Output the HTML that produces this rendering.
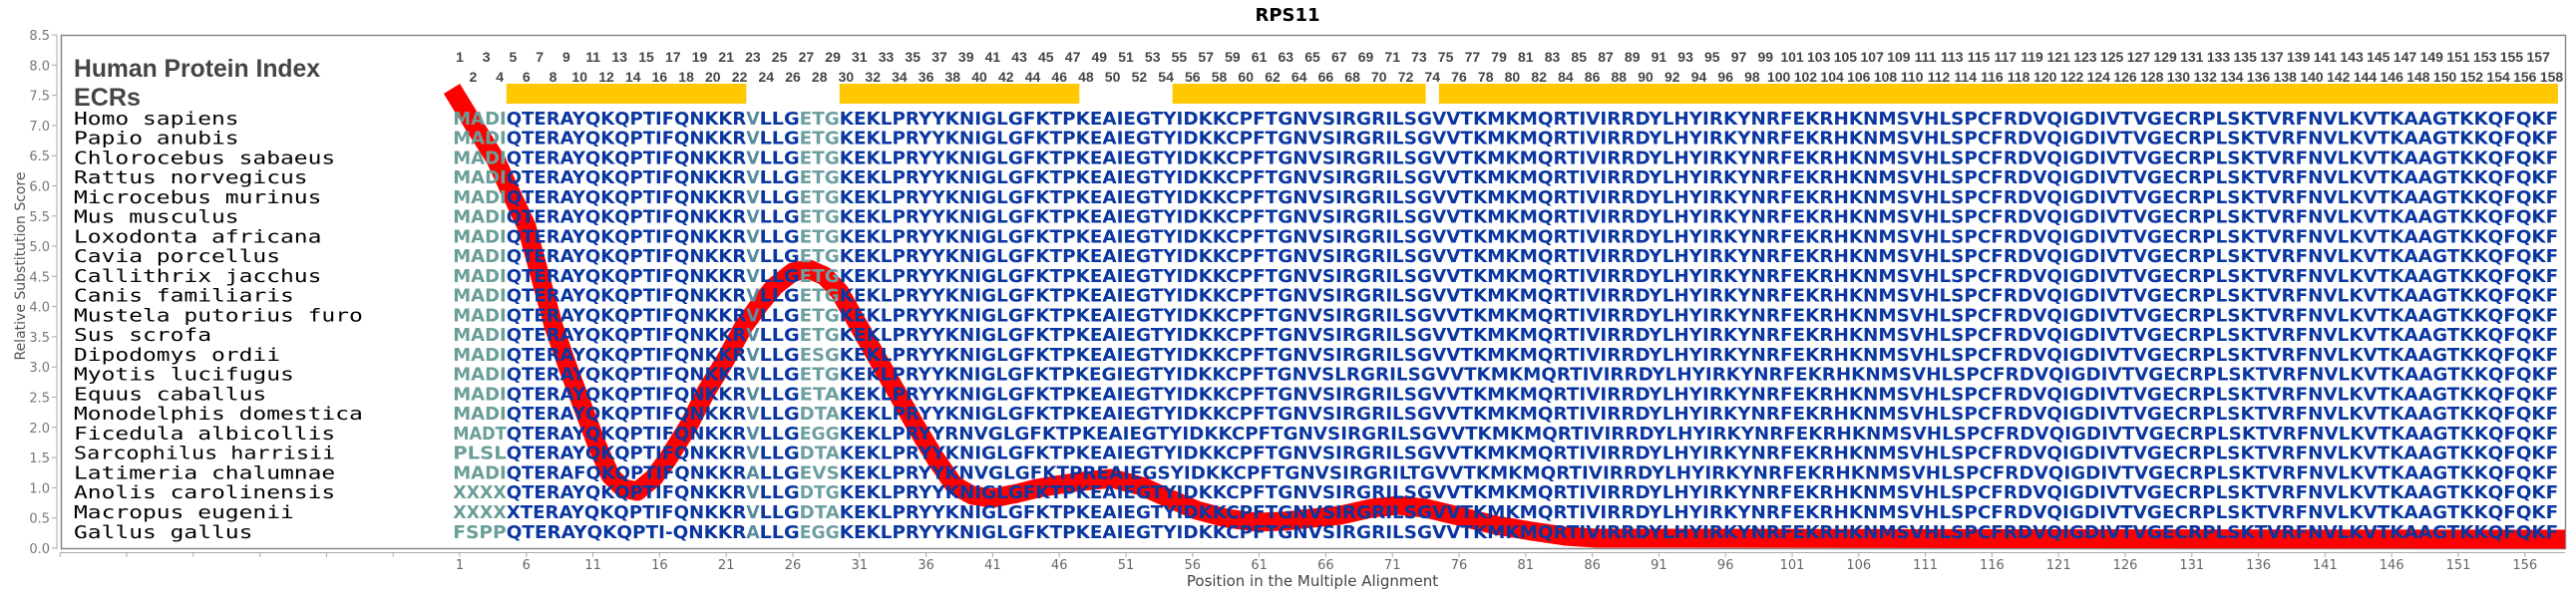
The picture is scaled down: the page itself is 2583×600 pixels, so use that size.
<!DOCTYPE html>
<html><head><meta charset="utf-8"><style>
html,body{margin:0;padding:0;background:#fff;}
svg{display:block;}
.sp{font-family:"DejaVu Sans Mono","Liberation Mono",monospace;font-size:18px;fill:#000;}
.sq{font-family:"DejaVu Sans","Liberation Sans",sans-serif;font-weight:bold;font-size:18px;fill:#0a36a0;}
.a{fill:#6a9e98;}.c{fill:#5a8ca0;}.e{fill:#6e9fa0;}
.hn{font-family:"Liberation Sans",sans-serif;font-weight:bold;font-size:14px;fill:#444;text-anchor:middle;}
.yl{font-family:"DejaVu Sans",sans-serif;font-size:13px;fill:#777;text-anchor:end;}
.xl{font-family:"DejaVu Sans",sans-serif;font-size:13px;fill:#666;text-anchor:middle;}
</style></head><body>
<svg width="2583" height="600" xmlns="http://www.w3.org/2000/svg">
<text x="1291" y="21" text-anchor="middle" font-family="DejaVu Sans,sans-serif" font-weight="bold" font-size="18">RPS11</text>
<rect x="61.5" y="35.5" width="2511" height="515" fill="none" stroke="#888" stroke-width="1.5"/>
<line x1="57" y1="35" x2="57" y2="551" stroke="#aaa"/>
<path stroke="#aaa" d="M52 550h5M52 519.7h5M52 489.4h5M52 459.1h5M52 428.8h5M52 398.5h5M52 368.2h5M52 337.9h5M52 307.6h5M52 277.3h5M52 247h5M52 216.8h5M52 186.5h5M52 156.2h5M52 125.9h5M52 95.6h5M52 65.3h5M52 35h5"/>
<g class="yl">
<text x="50" y="555">0.0</text><text x="50" y="524.7">0.5</text><text x="50" y="494.4">1.0</text><text x="50" y="464.1">1.5</text><text x="50" y="433.8">2.0</text><text x="50" y="403.5">2.5</text><text x="50" y="373.2">3.0</text><text x="50" y="342.9">3.5</text><text x="50" y="312.6">4.0</text><text x="50" y="282.3">4.5</text><text x="50" y="252">5.0</text><text x="50" y="221.8">5.5</text><text x="50" y="191.5">6.0</text><text x="50" y="161.2">6.5</text><text x="50" y="130.9">7.0</text><text x="50" y="100.6">7.5</text><text x="50" y="70.3">8.0</text><text x="50" y="40">8.5</text>
</g>
<text transform="translate(25,267) rotate(-90)" text-anchor="middle" font-family="DejaVu Sans,sans-serif" font-size="14" fill="#555">Relative Substitution Score</text>
<line x1="61" y1="554.5" x2="2572" y2="554.5" stroke="#aaa"/>
<path stroke="#aaa" d="M60.2 554v5M127 554v5M193.8 554v5M260.6 554v5M327.4 554v5M394.2 554v5M461 554v5M527.8 554v5M594.6 554v5M661.4 554v5M728.2 554v5M795 554v5M861.8 554v5M928.6 554v5M995.4 554v5M1062.2 554v5M1129 554v5M1195.8 554v5M1262.6 554v5M1329.4 554v5M1396.2 554v5M1463 554v5M1529.8 554v5M1596.6 554v5M1663.4 554v5M1730.2 554v5M1797 554v5M1863.8 554v5M1930.6 554v5M1997.4 554v5M2064.2 554v5M2131 554v5M2197.8 554v5M2264.6 554v5M2331.4 554v5M2398.2 554v5M2465 554v5M2531.8 554v5"/>
<g class="xl">
<text x="461" y="571">1</text><text x="527.8" y="571">6</text><text x="594.6" y="571">11</text><text x="661.4" y="571">16</text><text x="728.2" y="571">21</text><text x="795" y="571">26</text><text x="861.8" y="571">31</text><text x="928.6" y="571">36</text><text x="995.4" y="571">41</text><text x="1062.2" y="571">46</text><text x="1129" y="571">51</text><text x="1195.8" y="571">56</text><text x="1262.6" y="571">61</text><text x="1329.4" y="571">66</text><text x="1396.2" y="571">71</text><text x="1463" y="571">76</text><text x="1529.8" y="571">81</text><text x="1596.6" y="571">86</text><text x="1663.4" y="571">91</text><text x="1730.2" y="571">96</text><text x="1797" y="571">101</text><text x="1863.8" y="571">106</text><text x="1930.6" y="571">111</text><text x="1997.4" y="571">116</text><text x="2064.2" y="571">121</text><text x="2131" y="571">126</text><text x="2197.8" y="571">131</text><text x="2264.6" y="571">136</text><text x="2331.4" y="571">141</text><text x="2398.2" y="571">146</text><text x="2465" y="571">151</text><text x="2531.8" y="571">156</text>
</g>
<text x="1316" y="588" text-anchor="middle" font-family="DejaVu Sans,sans-serif" font-size="15" fill="#444">Position in the Multiple Alignment</text>

<text x="74" y="77" font-family="Liberation Sans,sans-serif" font-weight="bold" font-size="25" fill="#444" textLength="247" lengthAdjust="spacingAndGlyphs">Human Protein Index</text>
<text x="74" y="106" font-family="Liberation Sans,sans-serif" font-weight="bold" font-size="25" fill="#444" textLength="67" lengthAdjust="spacingAndGlyphs">ECRs</text>

<g fill="#ffc800">
<rect x="507.8" y="84" width="240.5" height="20"/>
<rect x="841.8" y="84" width="240.5" height="20"/>
<rect x="1175.7" y="84" width="253.9" height="20"/>
<rect x="1442.9" y="84" width="1122" height="20"/>
</g>

<g class="hn">
<text x="461" y="62">1</text><text x="487.7" y="62">3</text><text x="514.4" y="62">5</text><text x="541.2" y="62">7</text><text x="567.9" y="62">9</text><text x="594.6" y="62">11</text><text x="621.3" y="62">13</text><text x="648" y="62">15</text><text x="674.8" y="62">17</text><text x="701.5" y="62">19</text><text x="728.2" y="62">21</text><text x="754.9" y="62">23</text><text x="781.6" y="62">25</text><text x="808.4" y="62">27</text><text x="835.1" y="62">29</text><text x="861.8" y="62">31</text><text x="888.5" y="62">33</text><text x="915.2" y="62">35</text><text x="942" y="62">37</text><text x="968.7" y="62">39</text><text x="995.4" y="62">41</text><text x="1022.1" y="62">43</text><text x="1048.8" y="62">45</text><text x="1075.6" y="62">47</text><text x="1102.3" y="62">49</text><text x="1129" y="62">51</text><text x="1155.7" y="62">53</text><text x="1182.4" y="62">55</text><text x="1209.2" y="62">57</text><text x="1235.9" y="62">59</text><text x="1262.6" y="62">61</text><text x="1289.3" y="62">63</text><text x="1316" y="62">65</text><text x="1342.8" y="62">67</text><text x="1369.5" y="62">69</text><text x="1396.2" y="62">71</text><text x="1422.9" y="62">73</text><text x="1449.6" y="62">75</text><text x="1476.4" y="62">77</text><text x="1503.1" y="62">79</text><text x="1529.8" y="62">81</text><text x="1556.5" y="62">83</text><text x="1583.2" y="62">85</text><text x="1610" y="62">87</text><text x="1636.7" y="62">89</text><text x="1663.4" y="62">91</text><text x="1690.1" y="62">93</text><text x="1716.8" y="62">95</text><text x="1743.6" y="62">97</text><text x="1770.3" y="62">99</text><text x="1797" y="62">101</text><text x="1823.7" y="62">103</text><text x="1850.4" y="62">105</text><text x="1877.2" y="62">107</text><text x="1903.9" y="62">109</text><text x="1930.6" y="62">111</text><text x="1957.3" y="62">113</text><text x="1984" y="62">115</text><text x="2010.8" y="62">117</text><text x="2037.5" y="62">119</text><text x="2064.2" y="62">121</text><text x="2090.9" y="62">123</text><text x="2117.6" y="62">125</text><text x="2144.4" y="62">127</text><text x="2171.1" y="62">129</text><text x="2197.8" y="62">131</text><text x="2224.5" y="62">133</text><text x="2251.2" y="62">135</text><text x="2278" y="62">137</text><text x="2304.7" y="62">139</text><text x="2331.4" y="62">141</text><text x="2358.1" y="62">143</text><text x="2384.8" y="62">145</text><text x="2411.6" y="62">147</text><text x="2438.3" y="62">149</text><text x="2465" y="62">151</text><text x="2491.7" y="62">153</text><text x="2518.4" y="62">155</text><text x="2545.2" y="62">157</text>
<text x="474.4" y="82">2</text><text x="501.1" y="82">4</text><text x="527.8" y="82">6</text><text x="554.5" y="82">8</text><text x="581.2" y="82">10</text><text x="608" y="82">12</text><text x="634.7" y="82">14</text><text x="661.4" y="82">16</text><text x="688.1" y="82">18</text><text x="714.8" y="82">20</text><text x="741.6" y="82">22</text><text x="768.3" y="82">24</text><text x="795" y="82">26</text><text x="821.7" y="82">28</text><text x="848.4" y="82">30</text><text x="875.2" y="82">32</text><text x="901.9" y="82">34</text><text x="928.6" y="82">36</text><text x="955.3" y="82">38</text><text x="982" y="82">40</text><text x="1008.8" y="82">42</text><text x="1035.5" y="82">44</text><text x="1062.2" y="82">46</text><text x="1088.9" y="82">48</text><text x="1115.6" y="82">50</text><text x="1142.4" y="82">52</text><text x="1169.1" y="82">54</text><text x="1195.8" y="82">56</text><text x="1222.5" y="82">58</text><text x="1249.2" y="82">60</text><text x="1276" y="82">62</text><text x="1302.7" y="82">64</text><text x="1329.4" y="82">66</text><text x="1356.1" y="82">68</text><text x="1382.8" y="82">70</text><text x="1409.6" y="82">72</text><text x="1436.3" y="82">74</text><text x="1463" y="82">76</text><text x="1489.7" y="82">78</text><text x="1516.4" y="82">80</text><text x="1543.2" y="82">82</text><text x="1569.9" y="82">84</text><text x="1596.6" y="82">86</text><text x="1623.3" y="82">88</text><text x="1650" y="82">90</text><text x="1676.8" y="82">92</text><text x="1703.5" y="82">94</text><text x="1730.2" y="82">96</text><text x="1756.9" y="82">98</text><text x="1783.6" y="82">100</text><text x="1810.4" y="82">102</text><text x="1837.1" y="82">104</text><text x="1863.8" y="82">106</text><text x="1890.5" y="82">108</text><text x="1917.2" y="82">110</text><text x="1944" y="82">112</text><text x="1970.7" y="82">114</text><text x="1997.4" y="82">116</text><text x="2024.1" y="82">118</text><text x="2050.8" y="82">120</text><text x="2077.6" y="82">122</text><text x="2104.3" y="82">124</text><text x="2131" y="82">126</text><text x="2157.7" y="82">128</text><text x="2184.4" y="82">130</text><text x="2211.2" y="82">132</text><text x="2237.9" y="82">134</text><text x="2264.6" y="82">136</text><text x="2291.3" y="82">138</text><text x="2318" y="82">140</text><text x="2344.8" y="82">142</text><text x="2371.5" y="82">144</text><text x="2398.2" y="82">146</text><text x="2424.9" y="82">148</text><text x="2451.6" y="82">150</text><text x="2478.4" y="82">152</text><text x="2505.1" y="82">154</text><text x="2531.8" y="82">156</text><text x="2558.5" y="82">158</text>
</g>

<polyline fill="none" stroke="#ff0000" stroke-width="19" stroke-linejoin="round" points="453,89 475,125 497,160 513,195 528,227 541,275 555,327 570,370 585,410 598,445 612,477 625,490 639,493 655,480 670,460 690,428 708,393 728,360 746,327 762,305 777,287 795,273 811,270 827,277 842,293 860,325 880,360 900,395 918,427 938,460 957,487 975,497 995,500 1020,495 1040,490 1057,487 1085,483 1115,480 1145,488 1172,500 1200,512 1230,520 1260,524 1287,523 1315,520 1344,517 1375,510 1402,507 1430,510 1459,517 1500,527 1536,533 1570,538 1600,540 2572,541"/>

<!-- rows -->
<g transform="translate(0,124.8)"><text class="sp" x="74" textLength="165.6" lengthAdjust="spacingAndGlyphs">Homo sapiens</text><text class="sq a" x="454.3" textLength="53.4" lengthAdjust="spacingAndGlyphs">MADI</text><text class="sq" x="507.8" textLength="240.5" lengthAdjust="spacingAndGlyphs">QTERAYQKQPTIFQNKKR</text><text class="sq c" x="748.2" textLength="13.4" lengthAdjust="spacingAndGlyphs">V</text><text class="sq" x="761.6" textLength="40.1" lengthAdjust="spacingAndGlyphs">LLG</text><text class="sq e" x="801.7" textLength="40.1" lengthAdjust="spacingAndGlyphs">ETG</text><text class="sq" x="841.8" textLength="1723.4" lengthAdjust="spacingAndGlyphs">KEKLPRYYKNIGLGFKTPKEAIEGTYIDKKCPFTGNVSIRGRILSGVVTKMKMQRTIVIRRDYLHYIRKYNRFEKRHKNMSVHLSPCFRDVQIGDIVTVGECRPLSKTVRFNVLKVTKAAGTKKQFQKF</text></g>
<g transform="translate(0,144.6)"><text class="sp" x="74" textLength="165.6" lengthAdjust="spacingAndGlyphs">Papio anubis</text><text class="sq a" x="454.3" textLength="53.4" lengthAdjust="spacingAndGlyphs">MADI</text><text class="sq" x="507.8" textLength="240.5" lengthAdjust="spacingAndGlyphs">QTERAYQKQPTIFQNKKR</text><text class="sq c" x="748.2" textLength="13.4" lengthAdjust="spacingAndGlyphs">V</text><text class="sq" x="761.6" textLength="40.1" lengthAdjust="spacingAndGlyphs">LLG</text><text class="sq e" x="801.7" textLength="40.1" lengthAdjust="spacingAndGlyphs">ETG</text><text class="sq" x="841.8" textLength="1723.4" lengthAdjust="spacingAndGlyphs">KEKLPRYYKNIGLGFKTPKEAIEGTYIDKKCPFTGNVSIRGRILSGVVTKMKMQRTIVIRRDYLHYIRKYNRFEKRHKNMSVHLSPCFRDVQIGDIVTVGECRPLSKTVRFNVLKVTKAAGTKKQFQKF</text></g>
<g transform="translate(0,164.3)"><text class="sp" x="74" textLength="262.2" lengthAdjust="spacingAndGlyphs">Chlorocebus sabaeus</text><text class="sq a" x="454.3" textLength="53.4" lengthAdjust="spacingAndGlyphs">MADI</text><text class="sq" x="507.8" textLength="240.5" lengthAdjust="spacingAndGlyphs">QTERAYQKQPTIFQNKKR</text><text class="sq c" x="748.2" textLength="13.4" lengthAdjust="spacingAndGlyphs">V</text><text class="sq" x="761.6" textLength="40.1" lengthAdjust="spacingAndGlyphs">LLG</text><text class="sq e" x="801.7" textLength="40.1" lengthAdjust="spacingAndGlyphs">ETG</text><text class="sq" x="841.8" textLength="1723.4" lengthAdjust="spacingAndGlyphs">KEKLPRYYKNIGLGFKTPKEAIEGTYIDKKCPFTGNVSIRGRILSGVVTKMKMQRTIVIRRDYLHYIRKYNRFEKRHKNMSVHLSPCFRDVQIGDIVTVGECRPLSKTVRFNVLKVTKAAGTKKQFQKF</text></g>
<g transform="translate(0,184.1)"><text class="sp" x="74" textLength="234.6" lengthAdjust="spacingAndGlyphs">Rattus norvegicus</text><text class="sq a" x="454.3" textLength="53.4" lengthAdjust="spacingAndGlyphs">MADI</text><text class="sq" x="507.8" textLength="240.5" lengthAdjust="spacingAndGlyphs">QTERAYQKQPTIFQNKKR</text><text class="sq c" x="748.2" textLength="13.4" lengthAdjust="spacingAndGlyphs">V</text><text class="sq" x="761.6" textLength="40.1" lengthAdjust="spacingAndGlyphs">LLG</text><text class="sq e" x="801.7" textLength="40.1" lengthAdjust="spacingAndGlyphs">ETG</text><text class="sq" x="841.8" textLength="1723.4" lengthAdjust="spacingAndGlyphs">KEKLPRYYKNIGLGFKTPKEAIEGTYIDKKCPFTGNVSIRGRILSGVVTKMKMQRTIVIRRDYLHYIRKYNRFEKRHKNMSVHLSPCFRDVQIGDIVTVGECRPLSKTVRFNVLKVTKAAGTKKQFQKF</text></g>
<g transform="translate(0,203.8)"><text class="sp" x="74" textLength="248.4" lengthAdjust="spacingAndGlyphs">Microcebus murinus</text><text class="sq a" x="454.3" textLength="53.4" lengthAdjust="spacingAndGlyphs">MADI</text><text class="sq" x="507.8" textLength="240.5" lengthAdjust="spacingAndGlyphs">QTERAYQKQPTIFQNKKR</text><text class="sq c" x="748.2" textLength="13.4" lengthAdjust="spacingAndGlyphs">V</text><text class="sq" x="761.6" textLength="40.1" lengthAdjust="spacingAndGlyphs">LLG</text><text class="sq e" x="801.7" textLength="40.1" lengthAdjust="spacingAndGlyphs">ETG</text><text class="sq" x="841.8" textLength="1723.4" lengthAdjust="spacingAndGlyphs">KEKLPRYYKNIGLGFKTPKEAIEGTYIDKKCPFTGNVSIRGRILSGVVTKMKMQRTIVIRRDYLHYIRKYNRFEKRHKNMSVHLSPCFRDVQIGDIVTVGECRPLSKTVRFNVLKVTKAAGTKKQFQKF</text></g>
<g transform="translate(0,223.6)"><text class="sp" x="74" textLength="165.6" lengthAdjust="spacingAndGlyphs">Mus musculus</text><text class="sq a" x="454.3" textLength="53.4" lengthAdjust="spacingAndGlyphs">MADI</text><text class="sq" x="507.8" textLength="240.5" lengthAdjust="spacingAndGlyphs">QTERAYQKQPTIFQNKKR</text><text class="sq c" x="748.2" textLength="13.4" lengthAdjust="spacingAndGlyphs">V</text><text class="sq" x="761.6" textLength="40.1" lengthAdjust="spacingAndGlyphs">LLG</text><text class="sq e" x="801.7" textLength="40.1" lengthAdjust="spacingAndGlyphs">ETG</text><text class="sq" x="841.8" textLength="1723.4" lengthAdjust="spacingAndGlyphs">KEKLPRYYKNIGLGFKTPKEAIEGTYIDKKCPFTGNVSIRGRILSGVVTKMKMQRTIVIRRDYLHYIRKYNRFEKRHKNMSVHLSPCFRDVQIGDIVTVGECRPLSKTVRFNVLKVTKAAGTKKQFQKF</text></g>
<g transform="translate(0,243.4)"><text class="sp" x="74" textLength="248.4" lengthAdjust="spacingAndGlyphs">Loxodonta africana</text><text class="sq a" x="454.3" textLength="53.4" lengthAdjust="spacingAndGlyphs">MADI</text><text class="sq" x="507.8" textLength="240.5" lengthAdjust="spacingAndGlyphs">QTERAYQKQPTIFQNKKR</text><text class="sq c" x="748.2" textLength="13.4" lengthAdjust="spacingAndGlyphs">V</text><text class="sq" x="761.6" textLength="40.1" lengthAdjust="spacingAndGlyphs">LLG</text><text class="sq e" x="801.7" textLength="40.1" lengthAdjust="spacingAndGlyphs">ETG</text><text class="sq" x="841.8" textLength="1723.4" lengthAdjust="spacingAndGlyphs">KEKLPRYYKNIGLGFKTPKEAIEGTYIDKKCPFTGNVSIRGRILSGVVTKMKMQRTIVIRRDYLHYIRKYNRFEKRHKNMSVHLSPCFRDVQIGDIVTVGECRPLSKTVRFNVLKVTKAAGTKKQFQKF</text></g>
<g transform="translate(0,263.1)"><text class="sp" x="74" textLength="207" lengthAdjust="spacingAndGlyphs">Cavia porcellus</text><text class="sq a" x="454.3" textLength="53.4" lengthAdjust="spacingAndGlyphs">MADI</text><text class="sq" x="507.8" textLength="240.5" lengthAdjust="spacingAndGlyphs">QTERAYQKQPTIFQNKKR</text><text class="sq c" x="748.2" textLength="13.4" lengthAdjust="spacingAndGlyphs">V</text><text class="sq" x="761.6" textLength="40.1" lengthAdjust="spacingAndGlyphs">LLG</text><text class="sq e" x="801.7" textLength="40.1" lengthAdjust="spacingAndGlyphs">ETG</text><text class="sq" x="841.8" textLength="1723.4" lengthAdjust="spacingAndGlyphs">KEKLPRYYKNIGLGFKTPKEAIEGTYIDKKCPFTGNVSIRGRILSGVVTKMKMQRTIVIRRDYLHYIRKYNRFEKRHKNMSVHLSPCFRDVQIGDIVTVGECRPLSKTVRFNVLKVTKAAGTKKQFQKF</text></g>
<g transform="translate(0,282.9)"><text class="sp" x="74" textLength="248.4" lengthAdjust="spacingAndGlyphs">Callithrix jacchus</text><text class="sq a" x="454.3" textLength="53.4" lengthAdjust="spacingAndGlyphs">MADI</text><text class="sq" x="507.8" textLength="240.5" lengthAdjust="spacingAndGlyphs">QTERAYQKQPTIFQNKKR</text><text class="sq c" x="748.2" textLength="13.4" lengthAdjust="spacingAndGlyphs">V</text><text class="sq" x="761.6" textLength="40.1" lengthAdjust="spacingAndGlyphs">LLG</text><text class="sq e" x="801.7" textLength="40.1" lengthAdjust="spacingAndGlyphs">ETG</text><text class="sq" x="841.8" textLength="1723.4" lengthAdjust="spacingAndGlyphs">KEKLPRYYKNIGLGFKTPKEAIEGTYIDKKCPFTGNVSIRGRILSGVVTKMKMQRTIVIRRDYLHYIRKYNRFEKRHKNMSVHLSPCFRDVQIGDIVTVGECRPLSKTVRFNVLKVTKAAGTKKQFQKF</text></g>
<g transform="translate(0,302.6)"><text class="sp" x="74" textLength="220.8" lengthAdjust="spacingAndGlyphs">Canis familiaris</text><text class="sq a" x="454.3" textLength="53.4" lengthAdjust="spacingAndGlyphs">MADI</text><text class="sq" x="507.8" textLength="240.5" lengthAdjust="spacingAndGlyphs">QTERAYQKQPTIFQNKKR</text><text class="sq c" x="748.2" textLength="13.4" lengthAdjust="spacingAndGlyphs">V</text><text class="sq" x="761.6" textLength="40.1" lengthAdjust="spacingAndGlyphs">LLG</text><text class="sq e" x="801.7" textLength="40.1" lengthAdjust="spacingAndGlyphs">ETG</text><text class="sq" x="841.8" textLength="1723.4" lengthAdjust="spacingAndGlyphs">KEKLPRYYKNIGLGFKTPKEAIEGTYIDKKCPFTGNVSIRGRILSGVVTKMKMQRTIVIRRDYLHYIRKYNRFEKRHKNMSVHLSPCFRDVQIGDIVTVGECRPLSKTVRFNVLKVTKAAGTKKQFQKF</text></g>
<g transform="translate(0,322.4)"><text class="sp" x="74" textLength="289.8" lengthAdjust="spacingAndGlyphs">Mustela putorius furo</text><text class="sq a" x="454.3" textLength="53.4" lengthAdjust="spacingAndGlyphs">MADI</text><text class="sq" x="507.8" textLength="240.5" lengthAdjust="spacingAndGlyphs">QTERAYQKQPTIFQNKKR</text><text class="sq c" x="748.2" textLength="13.4" lengthAdjust="spacingAndGlyphs">V</text><text class="sq" x="761.6" textLength="40.1" lengthAdjust="spacingAndGlyphs">LLG</text><text class="sq e" x="801.7" textLength="40.1" lengthAdjust="spacingAndGlyphs">ETG</text><text class="sq" x="841.8" textLength="1723.4" lengthAdjust="spacingAndGlyphs">KEKLPRYYKNIGLGFKTPKEAIEGTYIDKKCPFTGNVSIRGRILSGVVTKMKMQRTIVIRRDYLHYIRKYNRFEKRHKNMSVHLSPCFRDVQIGDIVTVGECRPLSKTVRFNVLKVTKAAGTKKQFQKF</text></g>
<g transform="translate(0,342.2)"><text class="sp" x="74" textLength="138" lengthAdjust="spacingAndGlyphs">Sus scrofa</text><text class="sq a" x="454.3" textLength="53.4" lengthAdjust="spacingAndGlyphs">MADI</text><text class="sq" x="507.8" textLength="240.5" lengthAdjust="spacingAndGlyphs">QTERAYQKQPTIFQNKKR</text><text class="sq c" x="748.2" textLength="13.4" lengthAdjust="spacingAndGlyphs">V</text><text class="sq" x="761.6" textLength="40.1" lengthAdjust="spacingAndGlyphs">LLG</text><text class="sq e" x="801.7" textLength="40.1" lengthAdjust="spacingAndGlyphs">ETG</text><text class="sq" x="841.8" textLength="1723.4" lengthAdjust="spacingAndGlyphs">KEKLPRYYKNIGLGFKTPKEAIEGTYIDKKCPFTGNVSIRGRILSGVVTKMKMQRTIVIRRDYLHYIRKYNRFEKRHKNMSVHLSPCFRDVQIGDIVTVGECRPLSKTVRFNVLKVTKAAGTKKQFQKF</text></g>
<g transform="translate(0,361.9)"><text class="sp" x="74" textLength="207" lengthAdjust="spacingAndGlyphs">Dipodomys ordii</text><text class="sq a" x="454.3" textLength="53.4" lengthAdjust="spacingAndGlyphs">MADI</text><text class="sq" x="507.8" textLength="240.5" lengthAdjust="spacingAndGlyphs">QTERAYQKQPTIFQNKKR</text><text class="sq c" x="748.2" textLength="13.4" lengthAdjust="spacingAndGlyphs">V</text><text class="sq" x="761.6" textLength="40.1" lengthAdjust="spacingAndGlyphs">LLG</text><text class="sq e" x="801.7" textLength="40.1" lengthAdjust="spacingAndGlyphs">ESG</text><text class="sq" x="841.8" textLength="1723.4" lengthAdjust="spacingAndGlyphs">KEKLPRYYKNIGLGFKTPKEAIEGTYIDKKCPFTGNVSIRGRILSGVVTKMKMQRTIVIRRDYLHYIRKYNRFEKRHKNMSVHLSPCFRDVQIGDIVTVGECRPLSKTVRFNVLKVTKAAGTKKQFQKF</text></g>
<g transform="translate(0,381.7)"><text class="sp" x="74" textLength="220.8" lengthAdjust="spacingAndGlyphs">Myotis lucifugus</text><text class="sq a" x="454.3" textLength="53.4" lengthAdjust="spacingAndGlyphs">MADI</text><text class="sq" x="507.8" textLength="240.5" lengthAdjust="spacingAndGlyphs">QTERAYQKQPTIFQNKKR</text><text class="sq c" x="748.2" textLength="13.4" lengthAdjust="spacingAndGlyphs">V</text><text class="sq" x="761.6" textLength="40.1" lengthAdjust="spacingAndGlyphs">LLG</text><text class="sq e" x="801.7" textLength="40.1" lengthAdjust="spacingAndGlyphs">ETG</text><text class="sq" x="841.8" textLength="1723.4" lengthAdjust="spacingAndGlyphs">KEKLPRYYKNIGLGFKTPKEGIEGTYIDKKCPFTGNVSLRGRILSGVVTKMKMQRTIVIRRDYLHYIRKYNRFEKRHKNMSVHLSPCFRDVQIGDIVTVGECRPLSKTVRFNVLKVTKAAGTKKQFQKF</text></g>
<g transform="translate(0,401.4)"><text class="sp" x="74" textLength="193.2" lengthAdjust="spacingAndGlyphs">Equus caballus</text><text class="sq a" x="454.3" textLength="53.4" lengthAdjust="spacingAndGlyphs">MADI</text><text class="sq" x="507.8" textLength="240.5" lengthAdjust="spacingAndGlyphs">QTERAYQKQPTIFQNKKR</text><text class="sq c" x="748.2" textLength="13.4" lengthAdjust="spacingAndGlyphs">V</text><text class="sq" x="761.6" textLength="40.1" lengthAdjust="spacingAndGlyphs">LLG</text><text class="sq e" x="801.7" textLength="40.1" lengthAdjust="spacingAndGlyphs">ETA</text><text class="sq" x="841.8" textLength="1723.4" lengthAdjust="spacingAndGlyphs">KEKLPRYYKNIGLGFKTPKEAIEGTYIDKKCPFTGNVSIRGRILSGVVTKMKMQRTIVIRRDYLHYIRKYNRFEKRHKNMSVHLSPCFRDVQIGDIVTVGECRPLSKTVRFNVLKVTKAAGTKKQFQKF</text></g>
<g transform="translate(0,421.2)"><text class="sp" x="74" textLength="289.8" lengthAdjust="spacingAndGlyphs">Monodelphis domestica</text><text class="sq a" x="454.3" textLength="53.4" lengthAdjust="spacingAndGlyphs">MADI</text><text class="sq" x="507.8" textLength="240.5" lengthAdjust="spacingAndGlyphs">QTERAYQKQPTIFQNKKR</text><text class="sq c" x="748.2" textLength="13.4" lengthAdjust="spacingAndGlyphs">V</text><text class="sq" x="761.6" textLength="40.1" lengthAdjust="spacingAndGlyphs">LLG</text><text class="sq e" x="801.7" textLength="40.1" lengthAdjust="spacingAndGlyphs">DTA</text><text class="sq" x="841.8" textLength="1723.4" lengthAdjust="spacingAndGlyphs">KEKLPRYYKNIGLGFKTPKEAIEGTYIDKKCPFTGNVSIRGRILSGVVTKMKMQRTIVIRRDYLHYIRKYNRFEKRHKNMSVHLSPCFRDVQIGDIVTVGECRPLSKTVRFNVLKVTKAAGTKKQFQKF</text></g>
<g transform="translate(0,441)"><text class="sp" x="74" textLength="262.2" lengthAdjust="spacingAndGlyphs">Ficedula albicollis</text><text class="sq a" x="454.3" textLength="53.4" lengthAdjust="spacingAndGlyphs">MADT</text><text class="sq" x="507.8" textLength="240.5" lengthAdjust="spacingAndGlyphs">QTERAYQKQPTIFQNKKR</text><text class="sq c" x="748.2" textLength="13.4" lengthAdjust="spacingAndGlyphs">V</text><text class="sq" x="761.6" textLength="40.1" lengthAdjust="spacingAndGlyphs">LLG</text><text class="sq e" x="801.7" textLength="40.1" lengthAdjust="spacingAndGlyphs">EGG</text><text class="sq" x="841.8" textLength="1723.4" lengthAdjust="spacingAndGlyphs">KEKLPRYYRNVGLGFKTPKEAIEGTYIDKKCPFTGNVSIRGRILSGVVTKMKMQRTIVIRRDYLHYIRKYNRFEKRHKNMSVHLSPCFRDVQIGDIVTVGECRPLSKTVRFNVLKVTKAAGTKKQFQKF</text></g>
<g transform="translate(0,460.7)"><text class="sp" x="74" textLength="262.2" lengthAdjust="spacingAndGlyphs">Sarcophilus harrisii</text><text class="sq a" x="454.3" textLength="53.4" lengthAdjust="spacingAndGlyphs">PLSL</text><text class="sq" x="507.8" textLength="240.5" lengthAdjust="spacingAndGlyphs">QTERAYQKQPTIFQNKKR</text><text class="sq c" x="748.2" textLength="13.4" lengthAdjust="spacingAndGlyphs">V</text><text class="sq" x="761.6" textLength="40.1" lengthAdjust="spacingAndGlyphs">LLG</text><text class="sq e" x="801.7" textLength="40.1" lengthAdjust="spacingAndGlyphs">DTA</text><text class="sq" x="841.8" textLength="1723.4" lengthAdjust="spacingAndGlyphs">KEKLPRYYKNIGLGFKTPKEAIEGTYIDKKCPFTGNVSIRGRILSGVVTKMKMQRTIVIRRDYLHYIRKYNRFEKRHKNMSVHLSPCFRDVQIGDIVTVGECRPLSKTVRFNVLKVTKAAGTKKQFQKF</text></g>
<g transform="translate(0,480.5)"><text class="sp" x="74" textLength="262.2" lengthAdjust="spacingAndGlyphs">Latimeria chalumnae</text><text class="sq a" x="454.3" textLength="53.4" lengthAdjust="spacingAndGlyphs">MADI</text><text class="sq" x="507.8" textLength="240.5" lengthAdjust="spacingAndGlyphs">QTERAFQKQPTIFQNKKR</text><text class="sq c" x="748.2" textLength="13.4" lengthAdjust="spacingAndGlyphs">A</text><text class="sq" x="761.6" textLength="40.1" lengthAdjust="spacingAndGlyphs">LLG</text><text class="sq e" x="801.7" textLength="40.1" lengthAdjust="spacingAndGlyphs">EVS</text><text class="sq" x="841.8" textLength="1723.4" lengthAdjust="spacingAndGlyphs">KEKLPRYYKNVGLGFKTPREAIEGSYIDKKCPFTGNVSIRGRILTGVVTKMKMQRTIVIRRDYLHYIRKYNRFEKRHKNMSVHLSPCFRDVQIGDIVTVGECRPLSKTVRFNVLKVTKAAGTKKQFQKF</text></g>
<g transform="translate(0,500.2)"><text class="sp" x="74" textLength="262.2" lengthAdjust="spacingAndGlyphs">Anolis carolinensis</text><text class="sq a" x="454.3" textLength="53.4" lengthAdjust="spacingAndGlyphs">XXXX</text><text class="sq" x="507.8" textLength="240.5" lengthAdjust="spacingAndGlyphs">QTERAYQKQPTIFQNKKR</text><text class="sq c" x="748.2" textLength="13.4" lengthAdjust="spacingAndGlyphs">V</text><text class="sq" x="761.6" textLength="40.1" lengthAdjust="spacingAndGlyphs">LLG</text><text class="sq e" x="801.7" textLength="40.1" lengthAdjust="spacingAndGlyphs">DTG</text><text class="sq" x="841.8" textLength="1723.4" lengthAdjust="spacingAndGlyphs">KEKLPRYYKNIGLGFKTPKEAIEGTYIDKKCPFTGNVSIRGRILSGVVTKMKMQRTIVIRRDYLHYIRKYNRFEKRHKNMSVHLSPCFRDVQIGDIVTVGECRPLSKTVRFNVLKVTKAAGTKKQFQKF</text></g>
<g transform="translate(0,520)"><text class="sp" x="74" textLength="220.8" lengthAdjust="spacingAndGlyphs">Macropus eugenii</text><text class="sq a" x="454.3" textLength="53.4" lengthAdjust="spacingAndGlyphs">XXXX</text><text class="sq" x="507.8" textLength="240.5" lengthAdjust="spacingAndGlyphs">XTERAYQKQPTIFQNKKR</text><text class="sq c" x="748.2" textLength="13.4" lengthAdjust="spacingAndGlyphs">V</text><text class="sq" x="761.6" textLength="40.1" lengthAdjust="spacingAndGlyphs">LLG</text><text class="sq e" x="801.7" textLength="40.1" lengthAdjust="spacingAndGlyphs">DTA</text><text class="sq" x="841.8" textLength="1723.4" lengthAdjust="spacingAndGlyphs">KEKLPRYYKNIGLGFKTPKEAIEGTYIDKKCPFTGNVSIRGRILSGVVTKMKMQRTIVIRRDYLHYIRKYNRFEKRHKNMSVHLSPCFRDVQIGDIVTVGECRPLSKTVRFNVLKVTKAAGTKKQFQKF</text></g>
<g transform="translate(0,539.8)"><text class="sp" x="74" textLength="179.4" lengthAdjust="spacingAndGlyphs">Gallus gallus</text><text class="sq a" x="454.3" textLength="53.4" lengthAdjust="spacingAndGlyphs">FSPP</text><text class="sq" x="507.8" textLength="240.5" lengthAdjust="spacingAndGlyphs">QTERAYQKQPTI-QNKKR</text><text class="sq c" x="748.2" textLength="13.4" lengthAdjust="spacingAndGlyphs">A</text><text class="sq" x="761.6" textLength="40.1" lengthAdjust="spacingAndGlyphs">LLG</text><text class="sq e" x="801.7" textLength="40.1" lengthAdjust="spacingAndGlyphs">EGG</text><text class="sq" x="841.8" textLength="1723.4" lengthAdjust="spacingAndGlyphs">KEKLPRYYKNIGLGFKTPKEAIEGTYIDKKCPFTGNVSIRGRILSGVVTKMKMQRTIVIRRDYLHYIRKYNRFEKRHKNMSVHLSPCFRDVQIGDIVTVGECRPLSKTVRFNVLKVTKAAGTKKQFQKF</text></g>
</svg>
</body></html>
